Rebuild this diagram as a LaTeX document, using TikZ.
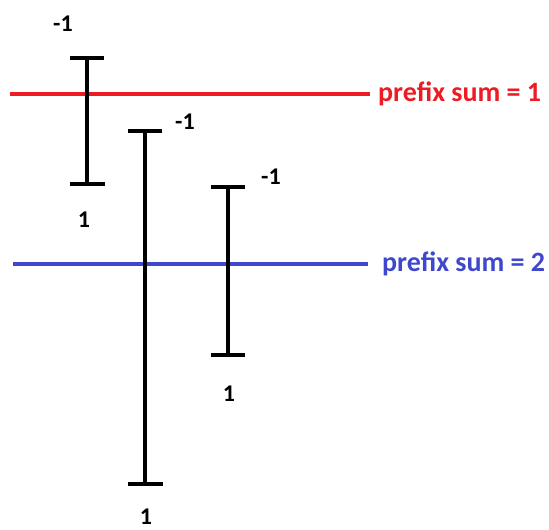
\documentclass[tikz,border=0pt]{standalone}
\usepackage{fontspec}
\setmainfont{Carlito}
\definecolor{pred}{RGB}{237,28,36}
\definecolor{pblue}{RGB}{63,72,204}
\begin{document}
\begin{tikzpicture}[x=1pt,y=-1pt,
  bar/.style={line width=4pt,black},
  barcap/.style={line width=4pt,black},
  lbl/.style={font=\bfseries\fontsize{24}{28}\selectfont,inner sep=0pt},
  sumlbl/.style={font=\bfseries\fontsize{28}{32}\selectfont,inner sep=0pt,anchor=west}]
\useasboundingbox (0,0) rectangle (549,530);
% red line
\coordinate (r1) at (10,94);
\coordinate (r2) at (370,94);
\draw[pred,line width=4pt] (r1) -- (r2);
\node[sumlbl,text=pred] (rs) at (378,94) {prefix sum = 1};
% blue line
\coordinate (b1) at (13,264);
\coordinate (b2) at (368,264);
\draw[pblue,line width=4pt] (b1) -- (b2);
\node[sumlbl,text=pblue] (bs) at (382,264) {prefix sum = 2};
% interval 1
\coordinate (a1) at (87,58);
\coordinate (a2) at (87,184);
\draw[bar] (a1) -- (a2);
\draw[barcap] ([xshift=-17pt]a1) -- ([xshift=17pt]a1);
\draw[barcap] ([xshift=-17pt]a2) -- ([xshift=18pt]a2);
\node[lbl] (la1) at (63,24) {-1};
\node[lbl] (la2) at (84,220) {1};
% interval 2
\coordinate (c1) at (145,131);
\coordinate (c2) at (145,484);
\draw[bar] (c1) -- (c2);
\draw[barcap] ([xshift=-17pt]c1) -- ([xshift=17pt]c1);
\draw[barcap] ([xshift=-17pt]c2) -- ([xshift=18pt]c2);
\node[lbl] (lc1) at (185,122) {-1};
\node[lbl] (lc2) at (146,517) {1};
% interval 3
\coordinate (d1) at (228,187);
\coordinate (d2) at (228,355);
\draw[bar] (d1) -- (d2);
\draw[barcap] ([xshift=-17pt]d1) -- ([xshift=17pt]d1);
\draw[barcap] ([xshift=-17pt]d2) -- ([xshift=17pt]d2);
\node[lbl] (ld1) at (271,177) {-1};
\node[lbl] (ld2) at (229,394) {1};
\end{tikzpicture}
\end{document}
